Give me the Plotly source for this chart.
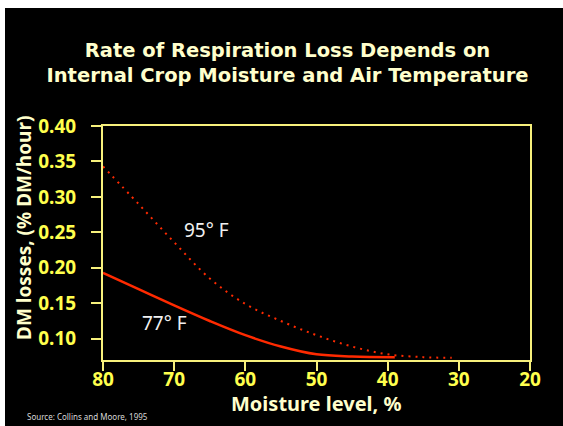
import plotly.graph_objects as go

# Data
moisture_77 = [80, 75, 70, 65, 60, 55, 50, 45, 39]
loss_77 = [0.193, 0.170, 0.147, 0.125, 0.105, 0.089, 0.078, 0.075, 0.074]

moisture_95 = [80, 75, 70, 65, 60, 55, 50, 45, 40, 35, 31]
loss_95 = [0.343, 0.290, 0.236, 0.185, 0.149, 0.125, 0.105, 0.089, 0.078, 0.074, 0.073]

x_ticks = [80, 70, 60, 50, 40, 30, 20]
y_ticks = [0.10, 0.15, 0.20, 0.25, 0.30, 0.35, 0.40]
y_tick_labels = ["0.10", "0.15", "0.20", "0.25", "0.30", "0.35", "0.40"]

label_95 = ("95° F", 65.4, 0.253)
label_77 = ("77° F", 71.3, 0.122)

title_text = "Rate of Respiration Loss Depends on<br>Internal Crop Moisture and Air Temperature"
x_title = "Moisture level, %"
y_title = "DM losses, (% DM/hour)"
source_text = "Source: Collins and Moore, 1995"

RED = "#ff2a00"
AXIS = "#f7f07c"
TICK = "#ffff4d"
PALE = "#ffffcc"
FONT = "Noto Sans"
TFONT = "DejaVu Sans"

# figure placed at (5, 8) in the 563x426 window, filling it to the right/bottom edges
OX, OY = 5, 8
W, H = 563 - OX, 426 - OY
ML, MR, MT, MB = 103 - OX, 33, 126 - OY, 66
PW, PH = W - ML - MR, H - MT - MB


def px_x(px):
    return (px - OX - ML) / PW


def px_y(py):
    return (H - MB - (py - OY)) / PH


fig = go.Figure()
fig.add_trace(go.Scatter(
    x=moisture_95, y=loss_95, mode="lines",
    line=dict(color=RED, width=2, dash="2px,5px", shape="spline", smoothing=1.0),
    showlegend=False, hoverinfo="skip"))
fig.add_trace(go.Scatter(
    x=moisture_77, y=loss_77, mode="lines",
    line=dict(color=RED, width=2.5, shape="spline", smoothing=1.0),
    showlegend=False, hoverinfo="skip"))

for txt, lx, ly in (label_95, label_77):
    fig.add_annotation(x=lx, y=ly, xref="x", yref="y", text=txt, showarrow=False,
                       font=dict(family=FONT, size=19, color="#f0f0f0"),
                       xanchor="center", yanchor="middle")

# axis titles and source note
fig.add_annotation(x=0.5, y=px_y(403), xref="paper", yref="paper", text=x_title,
                   showarrow=False, xanchor="center", yanchor="middle",
                   font=dict(family=FONT, size=20, color=PALE, weight="bold"))
fig.add_annotation(x=px_x(24), y=px_y(228), xref="paper", yref="paper", text=y_title,
                   showarrow=False, xanchor="center", yanchor="middle", textangle=-90,
                   font=dict(family=FONT, size=19, color=PALE, weight="bold"))
fig.add_annotation(x=px_x(25), y=px_y(416), xref="paper", yref="paper", text=source_text,
                   showarrow=False, xanchor="left", yanchor="middle",
                   font=dict(family=FONT, size=8, color="#d8d8d8"))

fig.update_layout(
    width=W, height=H,
    margin=dict(l=ML, r=MR, t=MT, b=MB, pad=0),
    paper_bgcolor="black", plot_bgcolor="black",
    title=dict(text=title_text, x=(287.5 - OX) / W, xref="container", xanchor="center",
               y=1 - (57 - OY) / H, yref="container", yanchor="middle",
               font=dict(family=TFONT, size=19.5, color=PALE, weight="bold")),
    showlegend=False,
)
fig.update_xaxes(range=[80, 20], tickvals=x_ticks, ticktext=[str(v) for v in x_ticks],
                 showgrid=False, zeroline=False, showline=True, linecolor=AXIS, linewidth=2,
                 mirror=True, ticks="outside", ticklen=9, tickwidth=2, tickcolor=AXIS,
                 ticklabelstandoff=-8,
                 tickfont=dict(family=FONT, size=19, color=TICK, weight="bold"))
fig.update_yaxes(range=[0.07, 0.40], tickvals=y_ticks, ticktext=y_tick_labels,
                 showgrid=False, zeroline=False, showline=True, linecolor=AXIS, linewidth=2,
                 mirror=True, ticks="outside", ticklen=10, tickwidth=2, tickcolor=AXIS,
                 ticklabelstandoff=11,
                 tickfont=dict(family=FONT, size=19, color=TICK, weight="bold"))

page_js = ("document.body.style.margin='8px 0 0 5px';"
           "document.body.style.overflow='hidden';"
           "document.documentElement.style.overflow='hidden';")
fig.write_html("out.html", post_script=page_js)
